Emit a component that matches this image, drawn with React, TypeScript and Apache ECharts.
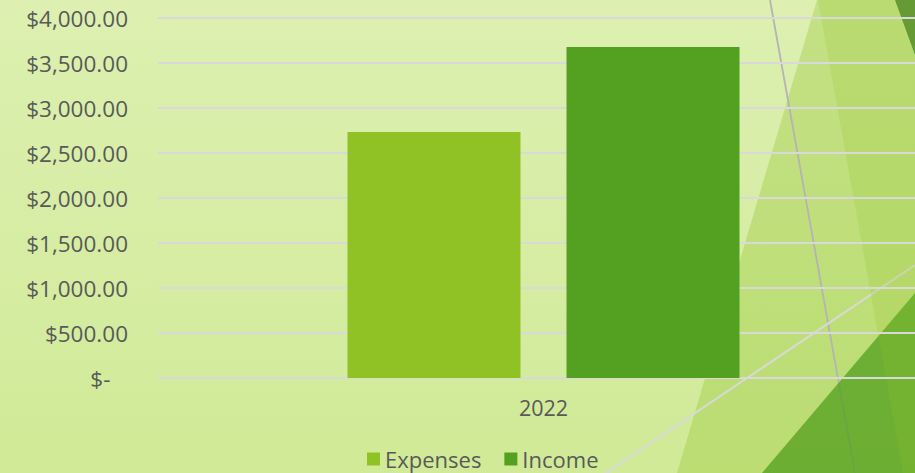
import React, { useEffect, useRef } from "react";
import * as echarts from "echarts";

const categories = ["2022"];
const seriesNames = ["Expenses", "Income"];
const expenses = [2733];
const income = [3678];
const yMin = 0;
const yMax = 4000;
const yInterval = 500;

const FONT = "'Open Sans', sans-serif";
const TEXT = "#595959";

function fmt(v: number): string {
  if (v === 0) return "$-\u00a0\u00a0\u00a0";
  return "$" + v.toLocaleString("en-US", { minimumFractionDigits: 2, maximumFractionDigits: 2 });
}

export default function App() {
  const ref = useRef<HTMLDivElement>(null);
  useEffect(() => {
    if (!ref.current) return;
    const chart = echarts.init(ref.current, null, { renderer: "svg" });
    const deco = [
      { type: "polygon", z: -10, silent: true, shape: { points: [[817, 0], [935, 0], [935, 473], [677, 473]] }, style: { fill: "rgba(144,194,38,0.32)" } },
      { type: "line", z: -9, silent: true, shape: { x1: 770, y1: 0, x2: 855, y2: 473 }, style: { stroke: "#b4b4b4", lineWidth: 1.8 } },
      { type: "line", z: -9, silent: true, shape: { x1: 600, y1: 477, x2: 915, y2: 265 }, style: { stroke: "#d9d9d9", lineWidth: 2 } },
      { type: "polygon", z: -8, silent: true, shape: { points: [[762, 473], [915, 293], [935, 293], [935, 473]] }, style: { fill: "rgba(84,160,33,0.77)" } },
      { type: "polygon", z: -7, silent: true, shape: { points: [[818, 0], [935, 0], [935, 473], [903, 473]] }, style: { fill: "rgba(144,194,38,0.2)" } },
      { type: "polygon", z: -6, silent: true, shape: { points: [[895, 0], [935, 0], [935, 55], [915, 55]] }, style: { fill: "#659a34" } },
    ];
    chart.setOption({
      animation: false,
      backgroundColor: {
        type: "linear", x: 0, y: 0, x2: 0, y2: 1,
        colorStops: [
          { offset: 0, color: "#ddf0b1" },
          { offset: 1, color: "#d0ea97" },
        ],
      },
      graphic: { elements: deco },
      grid: { left: 158, top: 18, right: 0, height: 360, containLabel: false },
      legend: {
        data: seriesNames,
        left: 362,
        top: 443,
        icon: "rect",
        itemWidth: 13,
        itemHeight: 13,
        itemGap: 23,
        textStyle: { color: TEXT, fontFamily: FONT, fontSize: 22 },
      },
      xAxis: {
        type: "category",
        data: categories,
        axisLine: { show: false },
        axisTick: { show: false },
        axisLabel: { color: TEXT, fontFamily: FONT, fontSize: 21.5, margin: 18 },
      },
      yAxis: {
        type: "value",
        min: yMin,
        max: yMax,
        interval: yInterval,
        axisLine: { show: false },
        axisTick: { show: false },
        splitLine: { lineStyle: { color: "#d9d9d9", width: 2 } },
        axisLabel: { color: TEXT, fontFamily: FONT, fontSize: 22.5, margin: 30, formatter: fmt },
      },
      series: [
        { name: seriesNames[0], type: "bar", data: expenses, barWidth: 173, barGap: "26.6%", itemStyle: { color: "#90c226" } },
        { name: seriesNames[1], type: "bar", data: income, barWidth: 173, barGap: "26.6%", itemStyle: { color: "#54a021" } },
      ],
    });
    return () => chart.dispose();
  }, []);
  return <div ref={ref} style={{ position: "fixed", left: 0, top: 0, width: 929, height: 473 }} />;
}
